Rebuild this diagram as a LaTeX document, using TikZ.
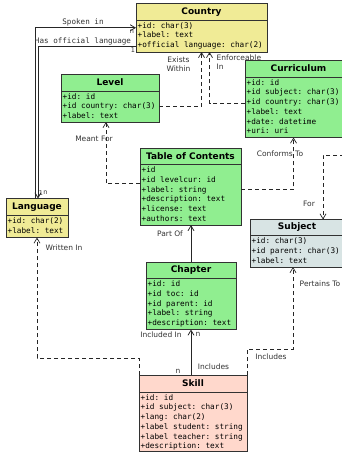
\documentclass[tikz,border=0pt]{standalone}
\usepackage{fontspec}
\setmainfont{DejaVu Sans}
\setmonofont{DejaVu Sans Mono}
\usetikzlibrary{arrows.meta,calc}
\definecolor{ylw}{RGB}{240,235,150}
\definecolor{grn}{RGB}{144,238,144}
\definecolor{sbj}{RGB}{216,228,228}
\definecolor{skl}{RGB}{255,216,204}
\definecolor{edgec}{RGB}{50,50,50}
\tikzset{
 classbox/.style={draw=edgec, line width=0.9pt, inner sep=0pt, outer sep=0pt},
 sepline/.style={draw=edgec, line width=0.9pt},
 titletext/.style={font=\bfseries\fontsize{9}{10}\selectfont, inner sep=0pt},
 attrtext/.style={font=\ttfamily\fontsize{7.7}{9.75}\selectfont, align=left, inner sep=0pt},
 lbl/.style={font=\fontsize{7.5}{9.5}\selectfont, text=black!80, inner sep=0pt},
 smalllbl/.style={font=\fontsize{6.5}{7}\selectfont, text=black!80, inner sep=0pt},
 monolbl/.style={font=\ttfamily\fontsize{7.6}{9}\selectfont, text=black!80, inner sep=0pt},
 tip/.tip={Straight Barb[length=5pt,width=6pt]},
 dep/.style={draw=black!85, line width=0.7pt, dash pattern=on 4pt off 3pt, -tip},
 assoc/.style={draw=black!85, line width=0.8pt, -tip},
}
\newcommand\umlclass[9]{%
 \node[classbox, fill=#7, minimum width=#4pt, minimum height=#5pt, anchor=north west] (#1) at (#2,#3) {};
 \draw[sepline] ([yshift=-#6pt]#1.north west) -- ([yshift=-#6pt]#1.north east);
 \node[titletext] at ([yshift=-#6pt/2]#1.north) {#8};
 \node[attrtext, anchor=north west] at ([xshift=1.5pt, yshift=-#6pt-2pt]#1.north west) {#9};
}
\begin{document}
\begin{tikzpicture}[x=1pt,y=-1pt]
\useasboundingbox (0,0) rectangle (342,453);
\clip (0,0) rectangle (342,453);
\fill[white] (0,0) rectangle (342,453);

\umlclass{country}{136}{3.5}{131}{48.5}{16.5}{ylw}{Country}{+id: char(3)\\+label: text\\+official language: char(2)}
\umlclass{level}{61}{74}{98}{48}{17}{grn}{Level}{+id: id\\+id country: char(3)\\+label: text}
\umlclass{curriculum}{245}{60}{107}{77.5}{17}{grn}{Curriculum}{+id: id\\+id subject: char(3)\\+id country: char(3)\\+label: text\\+date: datetime\\+uri: uri}
\umlclass{toc}{140}{148.5}{101}{76.5}{16}{grn}{Table of Contents}{+id\\+id levelcur: id\\+label: string\\+description: text\\+license: text\\+authors: text}
\umlclass{language}{6}{198.5}{62}{39}{17}{ylw}{Language}{+id: char(2)\\+label: text}
\umlclass{subject}{250}{219.5}{94}{47.5}{16}{sbj}{Subject}{+id: char(3)\\+id parent: char(3)\\+label: text}
\umlclass{chapter}{146}{262}{90}{67.5}{16.5}{grn}{Chapter}{+id: id\\+id toc: id\\+id parent: id\\+label: string\\+description: text}
\umlclass{skill}{139}{375}{108}{76}{17}{skl}{Skill}{+id: id\\+id subject: char(3)\\+lang: char(2)\\+label student: string\\+label teacher: string\\+description: text}

% Spoken in / Has official language
\draw[assoc] ([xshift=-2pt]language.north) |- (country.west);
\draw[assoc] ([yshift=-19pt]country.west) -| ([xshift=1pt]language.north);
\node[monolbl] at (83,22.5) {Spoken in};
\node[monolbl] at (83,41) {Has official language};
\node[smalllbl] at (132,32) {n};
\node[smalllbl] at (133,50.5) {1};
\node[smalllbl] at (41,193) {1};
\node[smalllbl] at (45.5,192.5) {n};

% Exists Within
\draw[dep] ([yshift=-8.5pt]level.east) -| (country.south);
\node[lbl, align=center] at (178.5,64) {Exists\\Within};
% Enforceable In
\draw[dep] ([yshift=-5pt]curriculum.west) -| ([xshift=8pt]country.south);
\node[lbl, align=left, anchor=west] at (216.5,62) {Enforceable\\In};

% Meant For
\draw[dep] ([yshift=3pt]toc.west) -| ([xshift=-4pt]level.south);
\node[lbl] at (94,139) {Meant For};

% Conforms To
\draw[dep] ([yshift=-3pt]toc.east) -| ([xshift=-5pt]curriculum.south);
\node[lbl] at (280,154) {Conforms To};

% For
\coordinate (forin) at (344,155);
\draw[dep] (forin) -| ([xshift=26pt]subject.north);
\node[lbl] at (309,203.5) {For};

% Part Of
\draw[assoc] (chapter.north) -- (chapter.north |- toc.south);
\node[lbl] at (170,234) {Part Of};

% Included In / Includes
\draw[assoc] (skill.north -| chapter.south) -- (chapter.south);
\node[lbl] at (161,334.5) {Included In};
\node[lbl] at (198,334) {n};
\node[lbl] at (213.5,367) {Includes};
\node[lbl] at (178,371) {n};

% Written In
\draw[dep] (skill.north west) |- (language.south |- 0,358) -- (language.south);
\node[lbl] at (64,247.5) {Written In};

% Pertains To / Includes
\draw[dep] (skill.north east) |- ([xshift=-4pt]subject.south |- 0,349) -- ([xshift=-4pt]subject.south);
\node[lbl] at (320,283.5) {Pertains To};
\node[lbl] at (271,357) {Includes};
\end{tikzpicture}
\end{document}
